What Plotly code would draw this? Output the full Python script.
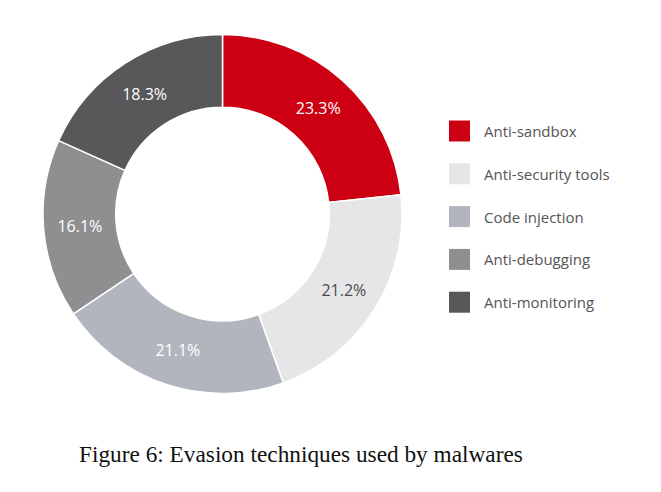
import plotly.graph_objects as go

labels = ["Anti-sandbox", "Anti-security tools", "Code injection", "Anti-debugging", "Anti-monitoring"]
values = [23.3, 21.2, 21.1, 16.1, 18.3]
colors = ["#cc0012", "#e6e6e8", "#b1b5bd", "#8f8f92", "#58585b"]
text_colors = ["#ffffff", "#4a4a4a", "#ffffff", "#ffffff", "#ffffff"]
caption = "Figure 6: Evasion techniques used by malwares"

W, H = 661, 492
OFF = 8  # page body margin offset
cx, cy, R = 222.5, 214, 179.5

def px(x):
    return (x - OFF) / W

def py(y):
    return 1 - (y - OFF) / H

fig = go.Figure()
fig.add_trace(go.Pie(
    labels=labels,
    values=values,
    sort=False,
    direction="clockwise",
    hole=0.595,
    marker=dict(colors=colors, line=dict(color="#ffffff", width=1.5)),
    texttemplate="%{value:.1f}%",
    textposition="inside",
    insidetextorientation="horizontal",
    textfont=dict(family="Open Sans", size=16, color=text_colors),
    domain=dict(x=[px(cx - R), px(cx + R)], y=[py(cy + R), py(cy - R)]),
    showlegend=False,
))

shapes = []
annotations = []
row0, gap = 131, 42.8
for i, (lab, col) in enumerate(zip(labels, colors)):
    yc = row0 + i * gap
    shapes.append(dict(type="rect", xref="paper", yref="paper",
                       x0=px(449), x1=px(470), y0=py(yc + 10.5), y1=py(yc - 10.5),
                       fillcolor=col, line=dict(width=0)))
    annotations.append(dict(text=lab, xref="paper", yref="paper",
                            x=px(482), y=py(yc), xanchor="left", yanchor="middle",
                            showarrow=False,
                            font=dict(family="Open Sans", size=15, color="#555555")))

annotations.append(dict(text=caption, xref="paper", yref="paper",
                        x=px(77), y=py(454), xanchor="left", yanchor="middle",
                        showarrow=False,
                        font=dict(family="Liberation Serif", size=23.3, color="#111111")))

fig.update_layout(
    width=W, height=H,
    margin=dict(l=0, r=0, t=0, b=0),
    paper_bgcolor="#ffffff", plot_bgcolor="#ffffff",
    shapes=shapes, annotations=annotations,
)

fig.write_html("out.html")
